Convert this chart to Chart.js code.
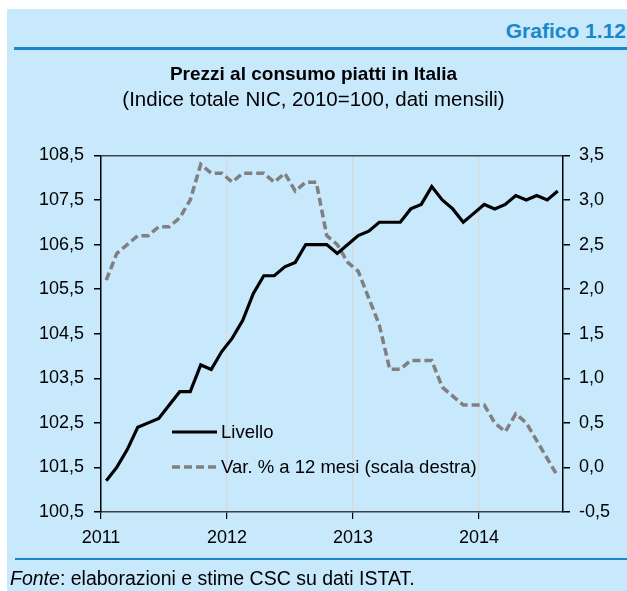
<!DOCTYPE html>
<html lang="it">
<head>
<meta charset="utf-8">
<title>Grafico 1.12</title>
<script src="https://cdn.jsdelivr.net/npm/chart.js@4.4.1/dist/chart.umd.min.js"></script>
<style>
  html, body { margin: 0; padding: 0; background: #fff; }
  body {
    width: 627px; height: 591px; position: relative; overflow: hidden;
    font-family: 'Liberation Sans', Arial, sans-serif;
  }
  .pannello { position: absolute; left: 7px; top: 9px; right: 0; bottom: 0; background: #C8E8FC; }
  .numero {
    position: absolute; right: 1px; top: 19px;
    font-size: 21px; font-weight: bold; color: #1B87CB; line-height: 24px;
  }
  .riga-alta { position: absolute; left: 14px; right: 0; top: 47px; height: 3px; background: #1B87CB; }
  .riga-bassa { position: absolute; left: 15px; right: 0; top: 558px; height: 2px; background: #1B87CB; }
  .fonte { position: absolute; left: 10px; top: 567px; font-size: 19.5px; line-height: 23px; color: #000; }
  #grafico { position: absolute; left: 0; top: 0; }
</style>
</head>
<body>
<div class="pannello"></div>
<div class="numero">Grafico 1.12</div>
<div class="riga-alta"></div>
<canvas id="grafico" width="627" height="591"></canvas>
<div class="riga-bassa"></div>
<div class="fonte"><i>Fonte</i>: elaborazioni e stime CSC su dati ISTAT.</div>

<script>
const titolo = 'Prezzi al consumo piatti in Italia';
const sottotitolo = '(Indice totale NIC, 2010=100, dati mensili)';

// etichette dell'asse orizzontale (inizio di ogni anno)
const anni = ['2011', '2012', '2013', '2014'];

// indice NIC, gen 2011 - ago 2014 (scala sinistra)
const livello = [
  101.2, 101.5, 101.9, 102.4, 102.5, 102.6, 102.9, 103.2, 103.2, 103.8, 103.7, 104.1,
  104.4, 104.8, 105.4, 105.8, 105.8, 106.0, 106.1, 106.5, 106.5, 106.5, 106.3, 106.5,
  106.7, 106.8, 107.0, 107.0, 107.0, 107.3, 107.4, 107.8, 107.5, 107.3, 107.0, 107.2,
  107.4, 107.3, 107.4, 107.6, 107.5, 107.6, 107.5, 107.7,
];

// variazione % a 12 mesi (scala destra)
const variazione = [
  2.1, 2.4, 2.5, 2.6, 2.6, 2.7, 2.7, 2.8, 3.0, 3.4, 3.3, 3.3,
  3.2, 3.3, 3.3, 3.3, 3.2, 3.3, 3.1, 3.2, 3.2, 2.6, 2.5, 2.3,
  2.2, 1.9, 1.6, 1.1, 1.1, 1.2, 1.2, 1.2, 0.9, 0.8, 0.7, 0.7,
  0.7, 0.5, 0.4, 0.6, 0.5, 0.3, 0.1, -0.1,
];

const etichette = ['Livello', 'Var. % a 12 mesi (scala destra)'];

const famiglia = "'Liberation Sans', Arial, sans-serif";
const virgola = (v) => Number(v).toFixed(1).replace('.', ',');

// legenda disegnata dentro l'area del grafico
const legendaInterna = {
  id: 'legendaInterna',
  afterDatasetsDraw: function (chart, args, options) {
    const { ctx } = chart;
    ctx.save();
    chart.data.datasets.forEach((ds, i) => {
      const y = options.y + i * options.gap;
      ctx.beginPath();
      ctx.strokeStyle = ds.borderColor;
      ctx.lineWidth = ds.borderWidth;
      ctx.setLineDash(ds.borderDash || []);
      ctx.moveTo(options.x, y);
      ctx.lineTo(options.x + options.len, y);
      ctx.stroke();
      ctx.setLineDash([]);
      ctx.fillStyle = '#000';
      ctx.font = '18.5px ' + famiglia;
      ctx.textBaseline = 'middle';
      ctx.fillText(ds.label, options.x + options.len + 4, y + 1);
    });
    ctx.restore();
  },
};

const config = {
  type: 'line',
  data: {
    datasets: [
      {
        label: etichette[0],
        data: livello.map((v, i) => ({ x: i + 0.5, y: v })),
        borderColor: '#000',
        borderWidth: 3.2,
        pointRadius: 0,
        tension: 0,
        yAxisID: 'y',
      },
      {
        label: etichette[1],
        data: variazione.map((v, i) => ({ x: i + 0.5, y: v })),
        borderColor: '#808080',
        borderWidth: 3.5,
        borderDash: [8, 4],
        pointRadius: 0,
        tension: 0,
        yAxisID: 'y2',
      },
    ],
  },
  options: {
    responsive: false,
    animation: false,
    layout: { padding: { left: 0, right: 0, top: 0, bottom: 0 } },
    plugins: {
      legend: { display: false },
      tooltip: { enabled: false },
      title: {
        display: true,
        text: titolo,
        color: '#000',
        font: { size: 19, weight: 'bold', family: famiglia },
        padding: { top: 63, bottom: 0 },
      },
      subtitle: {
        display: true,
        text: sottotitolo,
        color: '#000',
        font: { size: 20.5, family: famiglia },
        padding: { top: 2, bottom: 43 },
      },
      legendaInterna: { x: 172, y: 432, gap: 35, len: 45 },
    },
    scales: {
      x: {
        type: 'linear',
        min: 0,
        max: 44,
        afterBuildTicks: (scale) => {
          scale.ticks = anni.map((a, i) => ({ value: i * 12 }));
        },
        ticks: {
          callback: (v) => anni[Math.round(v / 12)],
          color: '#000',
          font: { size: 18, family: famiglia },
          padding: 8,
          maxRotation: 0,
          autoSkip: false,
        },
        grid: {
          color: (c) => (c.index === 0 ? 'rgba(0,0,0,0)' : '#D6D9DC'),
          tickColor: '#000',
          tickLength: 7,
          lineWidth: 1.2,
        },
        border: { color: '#3A3F44', width: 1.5 },
        afterFit: (scale) => {
          scale.height = 79;
        },
      },
      y: {
        position: 'left',
        min: 100.5,
        max: 108.5,
        ticks: {
          stepSize: 1,
          callback: virgola,
          color: '#000',
          font: { size: 18, family: famiglia },
          padding: 10,
        },
        grid: {
          color: (c) =>
            c.index === c.scale.ticks.length - 1 ? '#3A4650' : 'rgba(0,0,0,0)',
          tickColor: '#000',
          tickLength: 7,
          lineWidth: 1.5,
        },
        border: { color: '#000', width: 1.5 },
        afterFit: (scale) => {
          scale.width = 101;
        },
      },
      y2: {
        position: 'right',
        min: -0.5,
        max: 3.5,
        ticks: {
          stepSize: 0.5,
          callback: virgola,
          color: '#000',
          font: { size: 18, family: famiglia },
          padding: 9,
        },
        grid: {
          drawOnChartArea: false,
          tickColor: '#000',
          tickLength: 7,
          lineWidth: 1.5,
        },
        border: { color: '#000', width: 1.5 },
        afterFit: (scale) => {
          scale.width = 64;
        },
      },
    },
  },
  plugins: [legendaInterna],
};

new Chart(document.getElementById('grafico').getContext('2d'), config);
</script>
</body>
</html>
